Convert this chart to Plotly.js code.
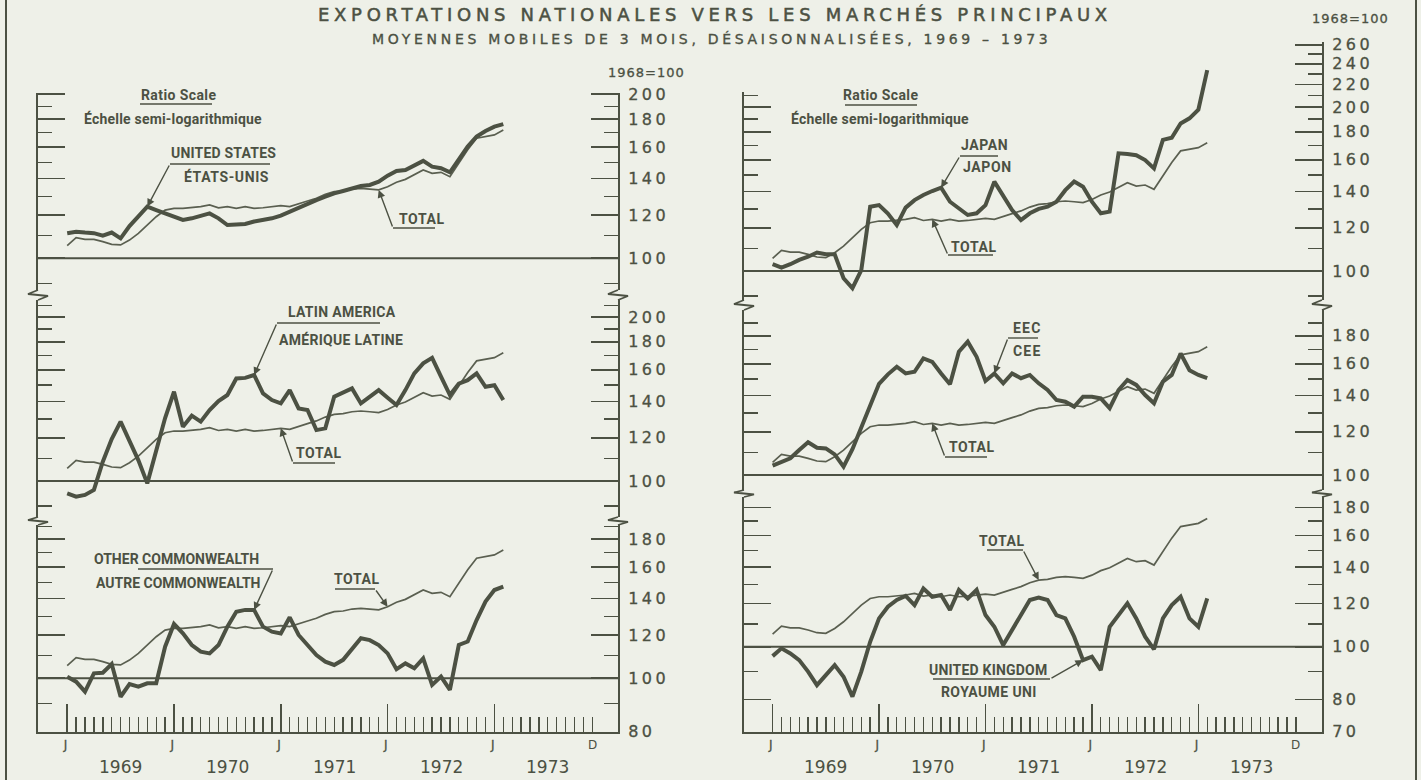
<!DOCTYPE html>
<html><head><meta charset="utf-8">
<script src="https://cdn.plot.ly/plotly-3.0.1.min.js"></script>
<style>
html,body{margin:0;padding:0;background:#eef0e8;overflow:hidden}
#chart{width:1421px;height:780px}
.main-svg g[class$="tick"] text{letter-spacing:3.5px;stroke:#4c5143;stroke-width:0.3px}
</style></head><body><div id="chart"></div>
<script>
// ---------------- DATA ----------------
// month index: 0 = January 1969
const MONTHS = [0,1,2,3,4,5,6,7,8,9,10,11,12,13,14,15,16,17,18,19,20,21,22,23,24,25,26,27,28,29,30,31,32,33,34,35,36,37,38,39,40,41,42,43,44,45,46,47,48,49];
const TOTAL = [105.5,109.1,108.3,108.3,107.3,106.1,105.8,108,111.1,115.1,119.2,122.6,123.5,123.5,123.8,124.4,125.3,123.8,124.4,123.5,124.4,123.5,123.8,124.4,124.9,124.4,126.1,127.4,128.9,131,132.5,132.9,134,134.4,134,133.5,135.3,137.9,139.6,142.2,145.2,143.2,143.8,141.2,149.3,158.2,166.1,167.2,168.4,171.9];
const UNITED_STATES = [111.2,111.9,111.5,111.2,110,111.5,108.8,114.6,119.4,124.4,122.6,120.9,118.8,117.6,118.4,119.8,120.9,118.4,115.1,115.4,115.6,116.8,117.6,118.4,119.8,121.8,123.5,126.1,127.9,129.7,131.6,132.9,134.4,135.7,136.3,138.2,141.8,144.6,145.2,148.3,150.9,147.3,146.3,143.8,151.5,160.3,167.2,171.2,174.4,176.3];
const LATIN_AMERICA = [94.9,93.6,94.3,96.3,108.5,119.4,128.5,118.4,109.1,99,113.7,130.5,145.8,125.8,131.8,128.5,135,140.2,143.8,154.2,154.6,156.5,144.8,140.8,138.8,146.8,135.9,135,124,124.9,142.8,145.4,147.9,138.8,142.8,146.8,142.2,137.9,146.8,157.6,164.4,168.3,155.4,143.8,150.9,153.1,157.6,148.9,149.9,140.8];
const OTHER_COMMONWEALTH = [100.7,98.6,94.5,102.1,102.4,106.2,92.5,97.6,96.5,97.9,97.9,114.3,125.8,120.9,115.1,111.9,111.1,115.1,124.4,132.5,133.5,133.5,124.4,121.8,120.9,129.4,120.1,115.1,110.3,107.3,105.8,108.1,113.5,118.4,117.5,115.1,111.1,103.9,106.5,104.3,108.8,97.2,100.7,95.2,115.1,116.8,127.9,138.3,145.2,147.3];
const JAPAN = [102.9,101.4,102.9,104.8,106.2,108.1,107.3,107.3,97,93,100.4,131.2,132.1,127.5,121.4,130.7,134.9,137.9,140.2,142.2,134,130,126.7,127.6,132.1,145.9,137.9,129.4,124,127.6,130,131.2,134,140.7,145.9,142.8,134,127.6,128.5,164.4,164,163.1,159.8,154.3,174,175.6,186.5,190.6,197.6,233.6];
const EEC = [104,105.8,107.3,111.1,114.8,112.2,111.9,109.1,103.6,111.5,122,134,147,153,158,153.6,154.7,163.7,161.3,153.6,146.7,168.3,175.6,164.8,148.8,153.6,147.3,153.6,150.5,152.6,147.3,143.2,137.3,136.3,133.5,139.2,139.2,138.2,132.6,143.2,149.4,146.3,140.2,135.4,148.3,152.6,167.1,155.7,152.6,150.5];
const UNITED_KINGDOM = [96.1,99.3,97.2,94.5,90,85,88.7,92.5,88.1,81,90,102.1,112.7,118.4,121.8,123.9,119.2,127.9,123.5,124.4,116.8,127.1,122.6,127.1,114.3,108.8,100.7,107.3,115.1,121.8,123.1,121.8,114.3,112.7,104.3,94.5,95.9,90.6,108.8,114.3,120.1,112.7,104.3,98.9,112.7,119.2,123.5,112.7,108.8,122.6];

const YEARS = ['1969','1970','1971','1972','1973'];
const JAN_TICKS = [0,12,24,36,48];
const JAN_LABELS = ['J','J','J','J','J'];
const ALL_MONTH_TICKS = [0,1,2,3,4,5,6,7,8,9,10,11,12,13,14,15,16,17,18,19,20,21,22,23,24,25,26,27,28,29,30,31,32,33,34,35,36,37,38,39,40,41,42,43,44,45,46,47,48,49,50,51,52,53,54,55,56,57,58,59];
const END_TICK = 59, END_LABEL = 'D';
const TENS = [70,80,90,100,110,120,130,140,150,160,170,180,190,200,210,220,230,240,250,260];

// ---------------- LAYOUT HELPERS ----------------
const W = 1421, H = 780, PPD = 545;
const INK = '#4c5143', THIN = '#5a5f50', BG = '#eef0e8';
const fx = p => p / W, fy = p => 1 - p / H;
const COLS = {
  L: {x0: 38, x1: 618, jan: 67.2, ppm: 8.9, xa: 'x', xk: 'xaxis', bottom: 'y3'},
  R: {x0: 744, x1: 1322, jan: 772.6, ppm: 8.87, xa: 'x2', xk: 'xaxis2', bottom: 'y6'}
};
const PANELS = {
  TL: {col:'L', ya:'y',  yk:'yaxis',  top:93,  bottom:290, y100:258.3, labels:[100,120,140,160,180,200], series:UNITED_STATES},
  ML: {col:'L', ya:'y2', yk:'yaxis2', top:300, bottom:517, y100:481,   labels:[100,120,140,160,180,200], series:LATIN_AMERICA},
  BL: {col:'L', ya:'y3', yk:'yaxis3', top:525, bottom:732, y100:678.3, labels:[80,100,120,140,160,180], series:OTHER_COMMONWEALTH},
  TR: {col:'R', ya:'y4', yk:'yaxis4', top:42,  bottom:300, y100:271,   labels:[100,120,140,160,180,200,220,240,260], series:JAPAN},
  MR: {col:'R', ya:'y5', yk:'yaxis5', top:310, bottom:490, y100:475,   labels:[100,120,140,160,180], series:EEC},
  BR: {col:'R', ya:'y6', yk:'yaxis6', top:497, bottom:732, y100:646.7, labels:[70,80,100,120,140,160,180], series:UNITED_KINGDOM}
};
const hx = (c, m) => COLS[c].jan + m * COLS[c].ppm;
const hy = (p, v) => p.y100 - Math.log10(v / 100) * PPD;

const traces = [];
const layout = {
  width: W, height: H, margin: {l:0, r:0, t:0, b:0},
  paper_bgcolor: BG, plot_bgcolor: BG, showlegend: false,
  font: {family: 'DejaVu Sans', color: INK},
  shapes: [], annotations: []
};

for (const k of ['L','R']) {
  const c = COLS[k];
  layout[c.xk] = {
    domain: [fx(c.x0), fx(c.x1)], range: [(c.x0 - c.jan) / c.ppm, (c.x1 - c.jan) / c.ppm],
    anchor: c.bottom, showgrid: false, zeroline: false, showline: true, linecolor: INK, linewidth: 2,
    ticks: 'inside', ticklen: 28, tickwidth: 1.6, tickcolor: INK,
    tickmode: 'array', tickvals: JAN_TICKS, ticktext: JAN_LABELS,
    tickfont: {size: 12, color: INK, family: 'DejaVu Sans'}, ticklabelstandoff: 1,
    minor: {tickmode: 'array', tickvals: ALL_MONTH_TICKS, ticks: 'inside', ticklen: 15, tickwidth: 1.4, tickcolor: INK, showgrid: false},
    fixedrange: true
  };
  layout.annotations.push({xref: c.xa, yref: 'paper', x: END_TICK, y: fy(745), text: END_LABEL, showarrow: false,
    font: {size: 12, color: INK}, xanchor: 'center', yanchor: 'middle'});
  YEARS.forEach((yr, i) => layout.annotations.push({xref: c.xa, yref: 'paper', x: 12 * i + 6, y: fy(767), text: yr,
    showarrow: false, font: {size: 17, color: INK}, xanchor: 'center', yanchor: 'middle'}));
}

for (const id in PANELS) {
  const p = PANELS[id], c = COLS[p.col];
  layout[p.yk] = {
    type: 'log', domain: [fy(p.bottom), fy(p.top)],
    range: [2 - (p.bottom - p.y100) / PPD, 2 + (p.y100 - p.top) / PPD],
    anchor: c.xa, side: 'right', showline: true, mirror: 'ticks', linecolor: INK, linewidth: 2,
    showgrid: false, zeroline: false, ticks: 'inside', ticklen: 27, tickwidth: 1.6, tickcolor: INK,
    tickmode: 'array', tickvals: p.labels, ticktext: p.labels.map(String),
    tickfont: {size: 16, color: INK, family: 'DejaVu Sans'}, ticklabelstandoff: 5,
    minor: {tickmode: 'array', tickvals: TENS.filter(v => !p.labels.includes(v)), ticks: 'inside', ticklen: 14, tickwidth: 1.4, tickcolor: INK, showgrid: false},
    fixedrange: true
  };
  traces.push({x: MONTHS, y: TOTAL, xaxis: c.xa, yaxis: p.ya, type: 'scatter', mode: 'lines',
    line: {color: THIN, width: 1.7}, hoverinfo: 'skip'});
  traces.push({x: MONTHS, y: p.series, xaxis: c.xa, yaxis: p.ya, type: 'scatter', mode: 'lines',
    line: {color: INK, width: 4}, hoverinfo: 'skip'});
  layout.shapes.push({type: 'line', xref: c.xa + ' domain', yref: p.ya, x0: 0, x1: 1, y0: 100, y1: 100,
    line: {color: INK, width: 2}});
}

// the left frame of the upper-right panel starts lower than its right scale
layout.shapes.push({type: 'rect', xref: 'paper', yref: 'paper', layer: 'above', x0: fx(736), x1: fx(774),
  y0: fy(92), y1: fy(36), fillcolor: BG, line: {width: 0}});

// axis break symbols
function brk(xc, g0, g1) {
  const gm = (g0 + g1) / 2;
  return `M${fx(xc)},${fy(g0)} L${fx(xc - 10)},${fy(gm - 1)} L${fx(xc + 10)},${fy(gm + 1)} L${fx(xc)},${fy(g1)}`;
}
[[38,290,300],[618,290,300],[38,517,525],[618,517,525],[744,300,310],[1322,300,310],[744,490,497],[1322,490,497]]
  .forEach(([x, a, b]) => layout.shapes.push({type: 'path', xref: 'paper', yref: 'paper', path: brk(x, a, b),
    line: {color: INK, width: 1.8}}));
[6, 1416].forEach(x => layout.shapes.push({type: 'line', xref: 'paper', yref: 'paper', x0: fx(x), x1: fx(x), y0: 0, y1: 1,
  line: {color: INK, width: 2}}));

// underlines (px)
[[140,212,104],[170,270,164],[393,435,228],[277,380,323],[293,335,463],[138,273,569],[335,375,589],
 [845,917,105],[960,998,156],[948,993,255],[1008,1038,338],[945,987,457],[987,1023,550],[933,1050,679]]
  .forEach(([a, b, y]) => layout.shapes.push({type: 'line', xref: 'paper', yref: 'paper', x0: fx(a), x1: fx(b),
    y0: fy(y), y1: fy(y), line: {color: INK, width: 1.4}}));

// leader arrows: [panel, series, month, tailX, tailY]
[['TL', UNITED_STATES, 9, 170, 164], ['TL', TOTAL, 35, 393, 228],
 ['ML', LATIN_AMERICA, 21, 277, 323], ['ML', TOTAL, 24, 293, 463],
 ['BL', OTHER_COMMONWEALTH, 21, 273, 569], ['BL', TOTAL, 36, 375, 589],
 ['TR', JAPAN, 19, 960, 156], ['TR', TOTAL, 18, 948, 255],
 ['MR', EEC, 25, 1008, 338], ['MR', TOTAL, 18, 945, 457],
 ['BR', TOTAL, 30, 1023, 550], ['BR', UNITED_KINGDOM, 35, 1050, 679]]
  .forEach(([pid, s, m, tx, ty]) => {
    const p = PANELS[pid], c = COLS[p.col], v = s[m];
    layout.annotations.push({xref: c.xa, yref: p.ya, x: m, y: Math.log10(v), text: '', showarrow: true,
      ax: tx - hx(p.col, m), ay: ty - hy(p, v), axref: 'pixel', ayref: 'pixel',
      arrowhead: 2, arrowsize: 1.1, arrowwidth: 1.4, arrowcolor: INK, standoff: 0, font: {size: 1}});
  });

// text labels: [text, leftX, centerY, size, family, weight, letterSpacing, stroke]
const LBL = 'Roboto, DejaVu Sans, sans-serif';
const TEXTS = [
  ['EXPORTATIONS NATIONALES VERS LES MARCHÉS PRINCIPAUX', 317, 14.5, 18, 'DejaVu Sans', 'normal', 4.7, 0.5],
  ['MOYENNES MOBILES DE 3 MOIS, DÉSAISONNALISÉES, 1969 – 1973', 371, 39, 14, 'DejaVu Sans', 'normal', 3.7, 0.35],
  ['1968=100', 607, 72, 13, 'DejaVu Sans', 'normal', 1, 0.3],
  ['1968=100', 1311, 18, 13, 'DejaVu Sans', 'normal', 1, 0.3],
  ['Ratio Scale', 140, 95, 14, LBL, 'bold', 0.4, 0],
  ['Échelle semi-logarithmique', 83, 118, 14, LBL, 'bold', 0.2, 0],
  ['UNITED STATES', 170, 153.5, 14, LBL, 'bold', 0.2, 0],
  ['ÉTATS-UNIS', 183, 177, 14, LBL, 'bold', 0.6, 0],
  ['TOTAL', 398, 219, 14, LBL, 'bold', 0.6, 0],
  ['LATIN AMERICA', 287, 312, 14, LBL, 'bold', 0.3, 0],
  ['AMÉRIQUE LATINE', 278, 339, 14, LBL, 'bold', 0.3, 0],
  ['TOTAL', 295, 452.5, 14, LBL, 'bold', 0.6, 0],
  ['OTHER COMMONWEALTH', 93, 559, 14, LBL, 'bold', 0, 0],
  ['AUTRE COMMONWEALTH', 95, 583, 14, LBL, 'bold', 0, 0],
  ['TOTAL', 333, 578.5, 14, LBL, 'bold', 0.6, 0],
  ['Ratio Scale', 842, 95, 14, LBL, 'bold', 0.4, 0],
  ['Échelle semi-logarithmique', 790, 118, 14, LBL, 'bold', 0.2, 0],
  ['JAPAN', 960, 145, 14, LBL, 'bold', 0.6, 0],
  ['JAPON', 962, 167, 14, LBL, 'bold', 0.6, 0],
  ['TOTAL', 950, 246.5, 14, LBL, 'bold', 0.6, 0],
  ['EEC', 1012, 327.5, 14, LBL, 'bold', 1.2, 0],
  ['CEE', 1012, 351, 14, LBL, 'bold', 1.2, 0],
  ['TOTAL', 948, 447.5, 14, LBL, 'bold', 0.6, 0],
  ['TOTAL', 978, 541, 14, LBL, 'bold', 0.6, 0],
  ['UNITED KINGDOM', 928, 670, 14, LBL, 'bold', 0.2, 0],
  ['ROYAUME UNI', 940, 692, 14, LBL, 'bold', 0.4, 0]
];
let css = '';
TEXTS.forEach(([t, x, y, s, fam, w, ls, sw]) => {
  const idx = layout.annotations.length;
  layout.annotations.push({xref: 'paper', yref: 'paper', x: fx(x), y: fy(y), xanchor: 'left', yanchor: 'middle', align: 'left',
    text: t, showarrow: false, font: {size: s, family: fam, weight: w, color: INK}, borderpad: 0});
  css += `.annotation[data-index="${idx}"] text{letter-spacing:${ls}px;` +
    (sw ? `stroke:${INK};stroke-width:${sw}px;` : '') + `}\n`;
});
const st = document.createElement('style'); st.textContent = css; document.head.appendChild(st);

Plotly.newPlot('chart', traces, layout, {staticPlot: true, displayModeBar: false});
</script></body></html>
